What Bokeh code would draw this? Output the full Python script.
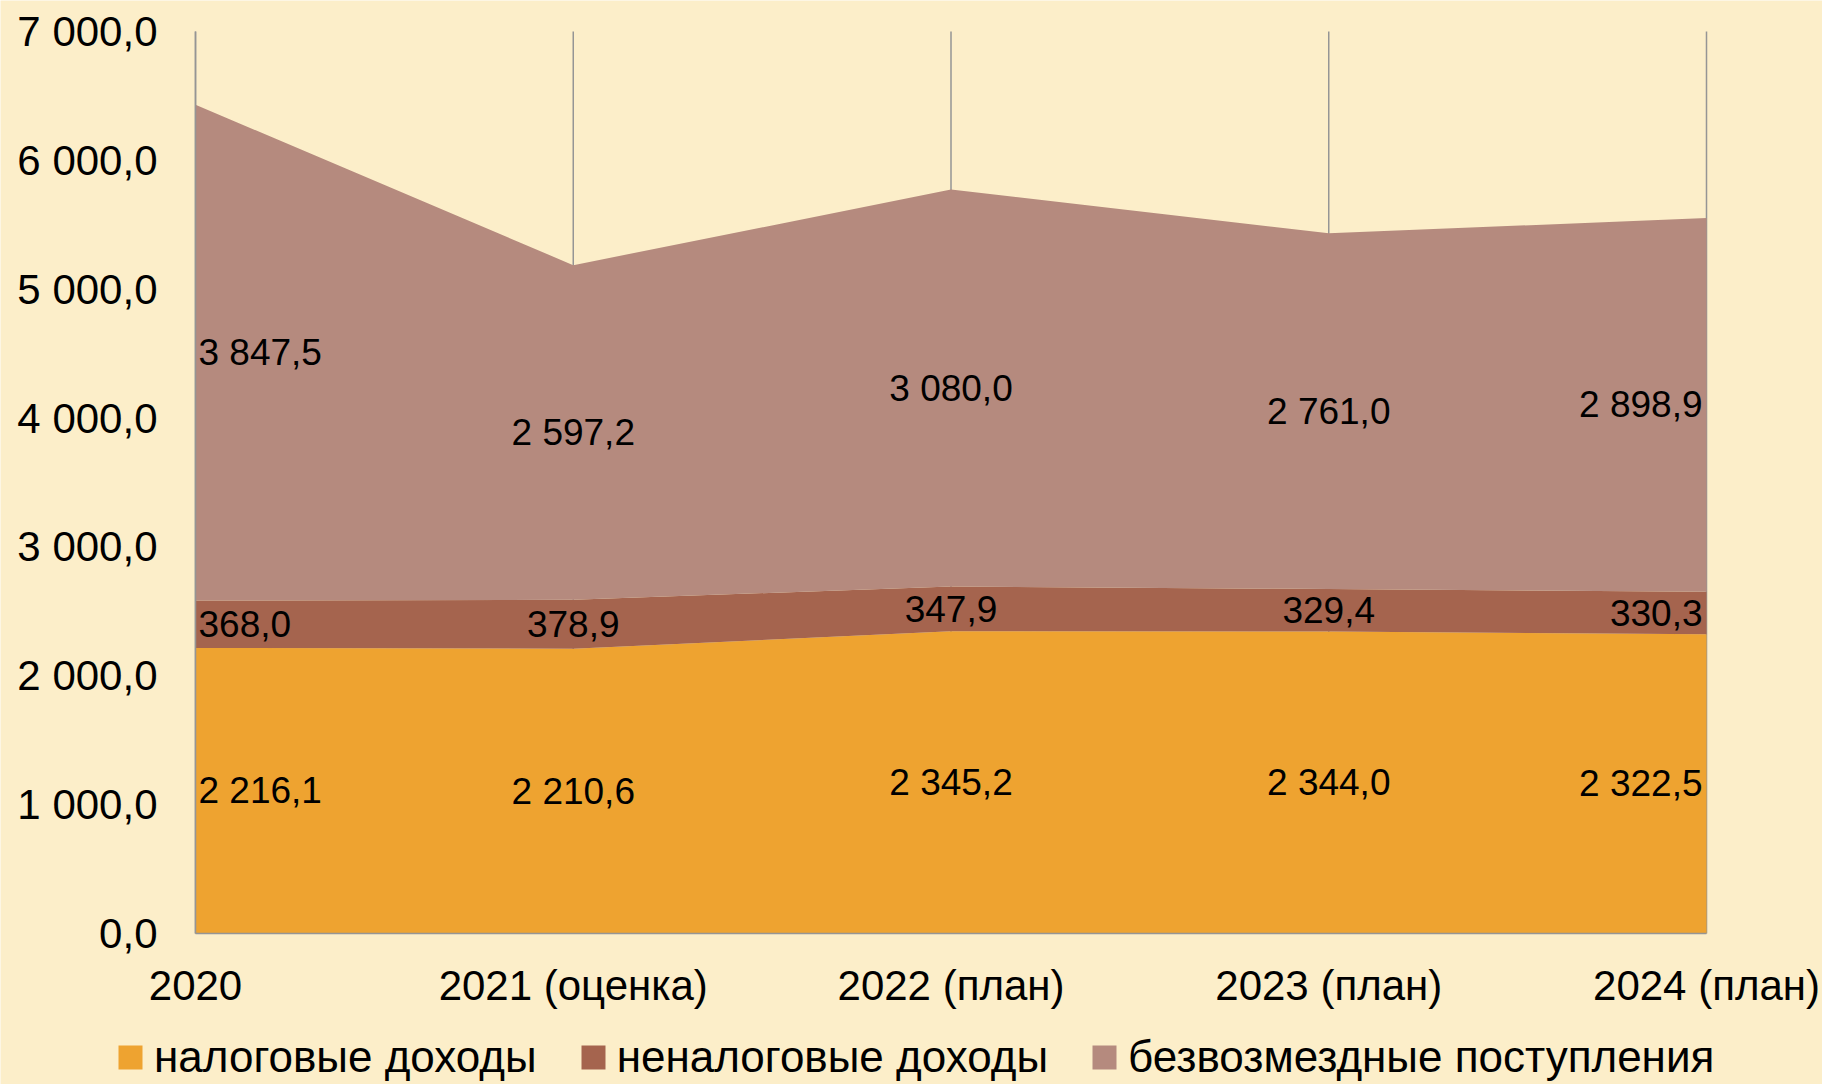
from bokeh.plotting import figure
from bokeh.models import ColumnDataSource, Range1d, FixedTicker, Legend, LegendItem
from bokeh.core.properties import value
from bokeh.embed import file_html
from bokeh.resources import INLINE

categories = ["2020", "2021 (оценка)", "2022 (план)", "2023 (план)", "2024 (план)"]
tax = [2216.1, 2210.6, 2345.2, 2344.0, 2322.5]
nontax = [368.0, 378.9, 347.9, 329.4, 330.3]
grants = [3847.5, 2597.2, 3080.0, 2761.0, 2898.9]
series_names = ["налоговые доходы", "неналоговые доходы", "безвозмездные поступления"]
y_ticks = [0, 1000, 2000, 3000, 4000, 5000, 6000, 7000]

colors = ["#EEA330", "#A5644E", "#B58A7E"]
bg = "#FCEEC9"
grid_color = "#959595"
FONT = "Liberation Sans"

# page geometry (pixels): plot area inside a full-canvas frame
W, H = 1822, 1084
LEFT, RIGHT, TOP, BOTTOM = 195, 1706, 31, 933

n = len(categories)
xs = list(range(n))
ymax = y_ticks[-1]
px_x = (RIGHT - LEFT) / (n - 1)
px_y = (BOTTOM - TOP) / ymax
x_range = Range1d(-LEFT / px_x, (n - 1) + (W - RIGHT) / px_x)
y_range = Range1d(-(H - BOTTOM) / px_y, ymax + TOP / px_y)

src = ColumnDataSource(dict(x=xs, tax=tax, nontax=nontax, grants=grants))

p = figure(width=W, height=H, output_backend="svg", toolbar_location=None,
           x_range=x_range, y_range=y_range,
           min_border=0, min_border_left=0, min_border_right=0,
           min_border_top=0, min_border_bottom=0)
p.background_fill_color = bg
p.border_fill_color = bg
p.outline_line_color = None
p.grid.visible = False

# vertical category lines (behind the areas)
p.segment(x0=xs, x1=xs, y0=[0] * n, y1=[ymax] * n, line_color=grid_color, line_width=1.5)

rs = p.varea_stack(stackers=["tax", "nontax", "grants"], x="x", color=colors, source=src)

# axes fixed inside the frame
p.xaxis.fixed_location = 0
p.xaxis.bounds = (0, n - 1)
p.xaxis.ticker = FixedTicker(ticks=xs)
p.xaxis.major_label_overrides = {i: c for i, c in enumerate(categories)}
p.xaxis.major_label_text_font = FONT
p.xaxis.major_label_text_font_size = "42px"
p.xaxis.major_label_text_color = "black"
p.xaxis.major_tick_line_color = None
p.xaxis.minor_tick_line_color = None
p.xaxis.major_tick_out = 0
p.xaxis.major_label_standoff = 28
p.xaxis.axis_line_color = grid_color
p.xaxis.axis_line_width = 1.5

def fmt(v):
    return f"{v:,.1f}".replace(",", " ").replace(".", ",")

p.yaxis.fixed_location = 0
p.yaxis.bounds = (0, ymax)
p.yaxis.ticker = FixedTicker(ticks=y_ticks)
p.yaxis.major_label_overrides = {v: fmt(v) for v in y_ticks}
p.yaxis.major_label_text_font = FONT
p.yaxis.major_label_text_font_size = "42px"
p.yaxis.major_label_text_color = "black"
p.yaxis.major_tick_line_color = None
p.yaxis.minor_tick_line_color = None
p.yaxis.major_tick_out = 0
p.yaxis.major_label_standoff = 38
p.yaxis.axis_line_color = grid_color
p.yaxis.axis_line_width = 1.5

# data labels at band midpoints
series = [tax, nontax, grants]
base = [0.0] * n
lab = {"left": dict(x=[], y=[], t=[]), "center": dict(x=[], y=[], t=[]), "right": dict(x=[], y=[], t=[])}
for s in series:
    for i, v in enumerate(s):
        key = "left" if i == 0 else ("right" if i == n - 1 else "center")
        lab[key]["x"].append(xs[i])
        lab[key]["y"].append(base[i] + v / 2)
        lab[key]["t"].append(fmt(v))
    base = [b + v for b, v in zip(base, s)]

offs = {"left": 3, "center": 0, "right": -4}
for key, d in lab.items():
    p.text(x=d["x"], y=d["y"], text=d["t"], text_align=key, text_baseline="middle",
           x_offset=offs[key], text_font=value(FONT), text_font_size="37px", text_color="black")

legend = Legend(items=[LegendItem(label=nm, renderers=[r]) for nm, r in zip(series_names, rs)],
                orientation="horizontal", location=(115, 2),
                glyph_width=30, glyph_height=30, label_standoff=9, spacing=41,
                padding=0, margin=0, border_line_color=None, background_fill_alpha=0,
                label_text_font=FONT, label_text_font_size="44px", label_text_color="black")
p.add_layout(legend)

open("out.html", "w").write(file_html(p, INLINE))
